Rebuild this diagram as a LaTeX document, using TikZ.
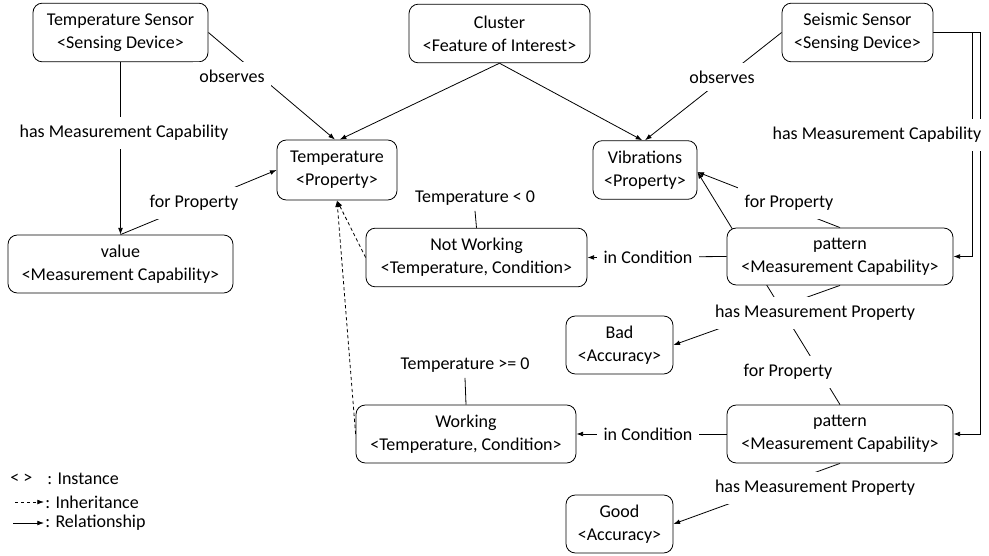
\documentclass[tikz,border=0pt]{standalone}
\usepackage{fontspec}
\setmainfont{Carlito}
\usetikzlibrary{arrows.meta}
\pgfdeclarelayer{bg}
\pgfsetlayers{bg,main}
\begin{document}
\begin{tikzpicture}[x=0.75pt,y=-0.75pt,
  every node/.style={font=\fontsize{13.5pt}{17pt}\selectfont},
  box/.style={draw, fill=white, rounded corners=7pt, align=center, inner sep=0pt,
              minimum height=44pt, line width=0.6pt},
  lbl/.style={fill=white, inner xsep=5pt, inner ysep=6pt},
  rel/.style={line width=0.6pt, -{Latex[length=5pt,width=3.6pt]}},
  inh/.style={rel, dash pattern=on 2.5pt off 2pt},
  tie/.style={line width=0.6pt}]
\useasboundingbox (0,0) rectangle (989,556);

% entities
\node[box, minimum width=131.25pt] (ts)   at (120.5,32.5) {Temperature Sensor\\<Sensing Device>};
\node[box, minimum width=135.75pt] (cl)   at (499.5,33.5) {Cluster\\<Feature of Interest>};
\node[box, minimum width=113.25pt] (ss)   at (857.5,32.5) {Seismic Sensor\\<Sensing Device>};
\node[box, minimum width=90pt, minimum height=45pt] (temp) at (337,170) {Temperature\\<Property>};
\node[box, minimum width=78pt]     (vib)  at (645,170) {Vibrations\\<Property>};
\node[box, minimum width=168.75pt, minimum height=43.5pt] (val) at (120.5,264) {value\\<Measurement Capability>};
\node[box, minimum width=165.75pt] (nw)   at (476.5,257.5) {Not Working\\<Temperature, Condition>};
\node[box, minimum width=169.5pt, minimum height=42.75pt] (p1) at (840,256.5) {pattern\\<Measurement Capability>};
\node[box, minimum width=80.25pt, minimum height=43.5pt] (bad) at (619.5,345) {Bad\\<Accuracy>};
\node[box, minimum width=165pt, minimum height=43.5pt] (wk) at (466,434) {Working\\<Temperature, Condition>};
\node[box, minimum width=169.5pt, minimum height=43.5pt] (p2) at (840,434) {pattern\\<Measurement Capability>};
\node[box, minimum width=80.25pt, minimum height=43.5pt] (good) at (619.5,524) {Good\\<Accuracy>};

% condition texts
\node[inner sep=4pt] (tlt) at (475,198) {Temperature < 0};
\node[inner sep=4pt] (tge) at (465,365) {Temperature >= 0};

% relation labels
\node[lbl] (l1) at (232,76)  {observes};
\node[lbl] (l2) at (722,77)  {observes};
\node[lbl] (l3) at (124,133) {has Measurement Capability};
\node[lbl] (l4) at (877,135) {has Measurement Capability};
\node[lbl] (l5) at (194,203) {for Property};
\node[lbl] (l6) at (789,203) {for Property};
\node[lbl] (l7) at (648,257) {in Condition};
\node[lbl] (l8) at (648,434) {in Condition};
\node[lbl] (l9) at (815,313) {has Measurement Property};
\node[lbl] (l10) at (788,372) {for Property};
\node[lbl] (l11) at (815,488) {has Measurement Property};

% legend
\node[anchor=west, inner sep=0pt] (kinst) at (10,479) {< >};
\node[anchor=west, inner sep=0pt] (tinst) at (47,479) {: Instance};
\coordinate (kia) at (15,502);
\coordinate (kib) at (44,502);
\node[anchor=west, inner sep=0pt] (tinh) at (45,502) {: Inheritance};
\coordinate (kra) at (13,523);
\coordinate (krb) at (44,523);
\node[anchor=west, inner sep=0pt] (trel) at (45,523) {: Relationship};

\begin{pgfonlayer}{bg}
  \draw[rel] (ts.east) -- ([xshift=-1.5pt]temp.north);
  \draw[rel] (cl.south) -- ([xshift=2pt]temp.north);
  \draw[rel] (cl.south) -- ([xshift=-2pt]vib.north);
  \draw[rel] (ss.west) -- (vib.north);
  \draw[rel] (ts.south) -- (val.north);
  \draw[rel] (val.north) -- (temp.west);
  \draw[inh] (nw.west) -- (temp.south);
  \draw[inh] (wk.west) -- (temp.south);
  \draw[tie] (tlt.south) -- (nw.north);
  \draw[tie] (tge.south) -- (wk.north);
  \draw[rel] (p1.west) -- (nw.east);
  \draw[rel] (p2.west) -- (wk.east);
  \draw[rel] (p1.north) -- ([yshift=-1.5pt]vib.east);
  \draw[rel] (p2.north) -- ([yshift=-1.5pt]vib.east);
  \draw[rel] (p1.south) -- (bad.east);
  \draw[rel] (p2.south) -- (good.east);
  \draw[rel] (ss.east) -- ++(39,0) |- (p1.east);
  \draw[rel] (ss.east) -- ++(47,0) |- (p2.east);
  \draw[inh] (kia) -- (kib);
  \draw[rel] (kra) -- (krb);
\end{pgfonlayer}
\end{tikzpicture}
\end{document}
